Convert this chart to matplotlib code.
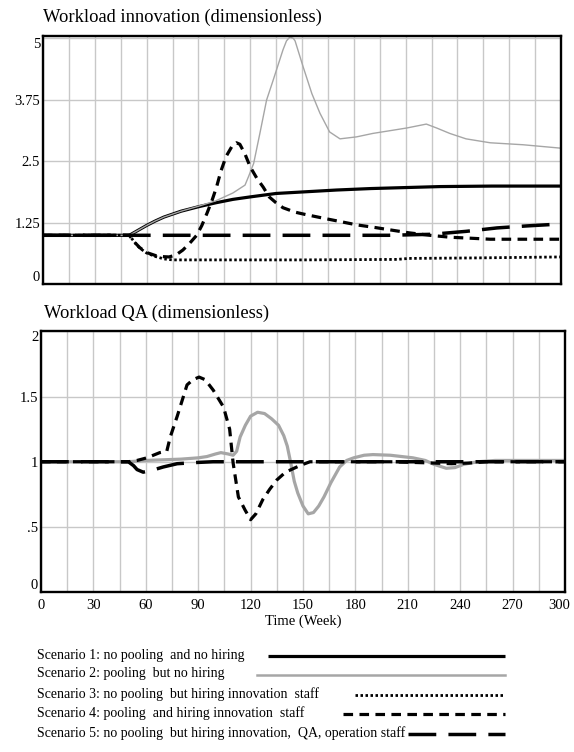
import matplotlib.pyplot as plt
from matplotlib.lines import Line2D
from matplotlib.transforms import ScaledTranslation

plt.rcParams['font.family'] = ['Liberation Serif', 'DejaVu Serif']

# ---- Workload innovation (top panel) ----
inn_s1_t = [0, 50, 55, 60, 65, 70, 80, 90, 100, 110, 120, 135, 150, 170, 190, 210, 230, 260, 300]
inn_s1_v = [1, 1, 1.1, 1.2, 1.29, 1.37, 1.49, 1.58, 1.66, 1.73, 1.78, 1.85, 1.88, 1.92, 1.95, 1.97, 1.99, 2.0, 2.0]

inn_s2_t = [0, 50, 55, 60, 65, 70, 80, 90, 100, 110, 117, 119, 122, 125.6, 129.5, 133, 139, 141, 143, 145, 146,
            150.6, 155.7, 160.4, 166, 172, 181.6, 191, 210.6, 222, 228, 235.6, 245, 259, 278, 300]
inn_s2_v = [1, 1, 1.1, 1.2, 1.29, 1.37, 1.49, 1.59, 1.7, 1.86, 2.02, 2.19, 2.46, 3.07, 3.75, 4.12, 4.77, 4.95, 5.03, 5.0, 4.95,
            4.43, 3.88, 3.48, 3.1, 2.96, 3.0, 3.07, 3.18, 3.26, 3.18, 3.07, 2.96, 2.88, 2.84, 2.77]

inn_s3_t = [0, 50, 53, 56, 60, 65, 70, 75, 100, 150, 205, 212, 250, 300]
inn_s3_v = [1, 1, 0.86, 0.74, 0.64, 0.57, 0.52, 0.5, 0.5, 0.5, 0.51, 0.53, 0.54, 0.56]

inn_s4_t = [0, 50, 53, 56, 60, 65, 70, 73, 77, 81, 85, 89, 92, 95, 98, 100.5, 103, 106, 109.8, 112, 114, 117, 120,
            124, 127.5, 131, 135, 139, 146, 151, 162, 172, 182, 192, 201, 212, 224, 236, 248, 259, 280, 300]
inn_s4_v = [1, 1, 0.86, 0.75, 0.65, 0.59, 0.565, 0.56, 0.6, 0.7, 0.84, 1.0, 1.2, 1.45, 1.72, 1.98, 2.3, 2.6, 2.83, 2.88,
            2.85, 2.65, 2.39, 2.15, 1.98, 1.78, 1.66, 1.56, 1.47, 1.43, 1.35, 1.28, 1.21, 1.16, 1.11, 1.05, 1.0, 0.96,
            0.94, 0.92, 0.92, 0.92]

inn_s5_t = [0, 200, 225, 245, 263, 280, 300]
inn_s5_v = [1, 1, 1.02, 1.08, 1.15, 1.19, 1.23]

# ---- Workload QA (bottom panel) ----
qa_s2_t = [0, 50, 60, 70, 80, 90, 95, 100, 103, 107, 110, 112, 114, 117, 120, 124, 128, 132, 136, 139, 141, 143,
           145, 147, 150, 153, 156, 159, 162, 166, 171, 175, 179, 185, 190, 200, 213, 220, 225, 232, 237, 242, 250,
           260, 300]
qa_s2_v = [1, 1, 1.01, 1.015, 1.02, 1.03, 1.04, 1.06, 1.07, 1.06, 1.05, 1.08, 1.19, 1.28, 1.35, 1.38, 1.37, 1.33,
           1.28, 1.2, 1.12, 0.99, 0.85, 0.76, 0.66, 0.6, 0.61, 0.66, 0.73, 0.84, 0.96, 1.01, 1.03, 1.05, 1.055, 1.05,
           1.03, 1.01, 0.98, 0.95, 0.955, 0.98, 1.0, 1.01, 1.01]

qa_s4_t = [0, 50, 55, 60.6, 68, 72, 74, 78, 83.6, 87, 90.5, 94, 98.6, 104.5, 108, 110, 113, 116.8, 120, 123, 127,
           131, 135, 140, 146.5, 150, 154, 160, 200, 225, 235, 245, 255, 300]
qa_s4_v = [1, 1, 1.01, 1.03, 1.07, 1.08, 1.19, 1.35, 1.59, 1.63, 1.65, 1.63, 1.55, 1.42, 1.25, 0.99, 0.73, 0.63,
           0.555, 0.6, 0.71, 0.79, 0.86, 0.92, 0.96, 0.98, 1.0, 1.0, 1.0, 0.99, 0.985, 0.99, 1.0, 1.0]

qa_s5_t = [0, 50, 53, 55, 58.5, 65, 70, 78, 90, 98.5, 300]
qa_s5_v = [1, 1, 0.97, 0.94, 0.92, 0.94, 0.96, 0.985, 0.995, 1.0, 1.0]

legend_labels = [
    "Scenario 1: no pooling  and no hiring",
    "Scenario 2: pooling  but no hiring",
    "Scenario 3: no pooling  but hiring innovation  staff",
    "Scenario 4: pooling  and hiring innovation  staff",
    "Scenario 5: no pooling  but hiring innovation,  QA, operation staff",
]

GRAY = '#a6a6a6'
GRID = '#c8c8c8'
S1 = dict(color='black', lw=2.3, solid_capstyle='butt')
S3 = dict(color='black', lw=2.0, dashes=(0.9, 0.9))
S4 = dict(color='black', lw=2.3, dashes=(3, 2))
S5 = dict(color='black', lw=2.5, dashes=(8, 3.5))

W, H = 574, 752
fig = plt.figure(figsize=(W / 100, H / 100), dpi=100)


def style_axes(ax, ylim, yticks, ylabels, xlabels):
    ax.set_xlim(0, 300)
    ax.set_ylim(*ylim)
    ax.set_xticks(range(0, 301, 30))
    ax.set_xticks(range(15, 300, 30), minor=True)
    ax.set_yticks(yticks)
    ax.set_yticklabels(ylabels)
    if not xlabels:
        ax.set_xticklabels([])
    ax.grid(True, which='both', axis='x', color=GRID, lw=1.0)
    ax.grid(True, which='major', axis='y', color=GRID, lw=1.0)
    ax.set_axisbelow(True)
    ax.tick_params(which='both', length=0, labelsize=10.5, colors='black')
    ax.tick_params(axis='y', pad=2)
    ax.tick_params(axis='x', pad=5)
    for sp in ax.spines.values():
        sp.set_linewidth(1.7)
        sp.set_color('black')
    labs = ax.get_yticklabels()
    labs[0].set_va('bottom')
    labs[-1].set_va('top')


# top panel
ax1 = fig.add_axes([43 / W, 1 - 284.5 / H, (561 - 43) / W, (284.5 - 36) / H])
ax1.plot(inn_s1_t, inn_s1_v, **S1)
ax1.plot(inn_s2_t, inn_s2_v, color=GRAY, lw=1.0)
ax1.plot(inn_s3_t, inn_s3_v, **S3)
ax1.plot(inn_s4_t, inn_s4_v, **S4)
ax1.plot(inn_s5_t, inn_s5_v, **S5)
style_axes(ax1, (0, 5.05), [0, 1.25, 2.5, 3.75, 5], ['0', '1.25', '2.5', '3.75', '5'], False)
fig.text(43 / W, 1 - 17 / H, 'Workload innovation (dimensionless)', fontsize=13.3, va='center', ha='left')

# bottom panel
ax2 = fig.add_axes([41 / W, 1 - 592 / H, (565 - 41) / W, (592 - 331.5) / H])
ax2.plot(qa_s2_t, qa_s2_v, color=GRAY, lw=2.3)
ax2.plot(qa_s5_t, qa_s5_v, **S5)
ax2.plot(qa_s4_t, qa_s4_v, **S4)
style_axes(ax2, (0, 2), [0, 0.5, 1, 1.5, 2], ['0', '.5', '1', '1.5', '2'], True)
ax2.set_xlabel('Time (Week)', fontsize=10.5, labelpad=2)
fig.text(44 / W, 1 - 313 / H, 'Workload QA (dimensionless)', fontsize=13.3, va='center', ha='left')
# keep the last x label ("300") inside the figure
last = ax2.get_xticklabels()[-1]
last.set_transform(last.get_transform() + ScaledTranslation(-4 / 72, 0, fig.dpi_scale_trans))

# legend
rows_y = [655, 674, 694, 713, 733]
line_x0 = [268, 257, 355, 343, 408]
styles = [S1, dict(color=GRAY, lw=1.8), S3, S4, S5]
for lab, y, x0, st in zip(legend_labels, rows_y, line_x0, styles):
    fig.text(37 / W, 1 - y / H, lab, fontsize=10, va='center', ha='left')
    fig.add_artist(Line2D([x0 / W, 505 / W], [1 - (y + 1) / H, 1 - (y + 1) / H],
                          transform=fig.transFigure, **st))

fig.savefig('out.png', dpi=100)
